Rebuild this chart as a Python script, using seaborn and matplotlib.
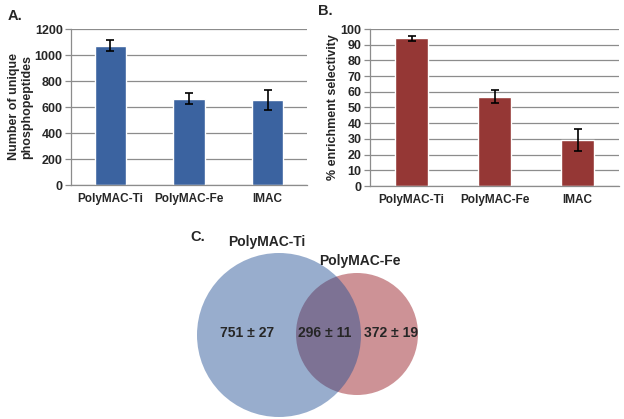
import numpy as np
import pandas as pd
import matplotlib
matplotlib.use("Agg")
import matplotlib.pyplot as plt
from matplotlib.patches import Circle
import seaborn as sns

# ── Data ─────────────────────────────────────────────────────────────────────
methods = ["PolyMAC-Ti", "PolyMAC-Fe", "IMAC"]
n_peptides = [1070, 665, 655]
n_peptides_err = [42, 40, 75]
selectivity = [94, 57, 29]
selectivity_err = [1.5, 4, 7]
venn_labels = ["PolyMAC-Ti", "PolyMAC-Fe"]
venn_counts = ["751 ± 27", "296 ± 11", "372 ± 19"]

sns.set_theme(style="white")
plt.rcParams["font.family"] = ["Liberation Sans", "DejaVu Sans"]
plt.rcParams["font.weight"] = "bold"

W, H = 624, 419
fig = plt.figure(figsize=(W / 100, H / 100), dpi=100)


def px_axes(x0, y0, x1, y1):
    return fig.add_axes([x0 / W, 1 - y1 / H, (x1 - x0) / W, (y1 - y0) / H])


def bar_panel(ax, vals, errs, color, ymax, step, ylabel):
    df = pd.DataFrame({"method": methods, "value": vals})
    sns.barplot(data=df, x="method", y="value", color=color, saturation=1,
                width=0.4, errorbar=None, ax=ax, zorder=2)
    ax.errorbar(range(len(vals)), vals, yerr=errs, fmt="none", ecolor="black",
                elinewidth=1.2, capsize=3, capthick=1.2, zorder=3)
    ax.set_xlim(-0.5, len(vals) - 0.5)
    ax.set_ylim(0, ymax)
    ax.set_yticks(np.arange(0, ymax + step / 2, step))
    ax.yaxis.grid(True, color="#8c8c8c", linewidth=0.9, zorder=0)
    ax.set_axisbelow(True)
    for s in ["top", "right"]:
        ax.spines[s].set_visible(False)
    for s in ["left", "bottom"]:
        ax.spines[s].set_color("#8c8c8c")
        ax.spines[s].set_linewidth(0.9)
    ax.set_xticks(np.arange(-0.5, len(vals)), minor=True)
    ax.tick_params(axis="x", which="major", length=0, labelsize=8.5, pad=6)
    ax.tick_params(axis="x", which="minor", length=4, color="#8c8c8c", width=0.9)
    ax.tick_params(axis="y", length=4, color="#8c8c8c", width=0.9, labelsize=9, pad=2,
                   left=True)
    for lbl in ax.get_xticklabels() + ax.get_yticklabels():
        lbl.set_fontweight("bold")
    ax.set_xlabel("")
    ax.set_ylabel(ylabel, fontsize=9, fontweight="bold", linespacing=1.15)


# ── Panel A ──────────────────────────────────────────────────────────────────
axA = px_axes(71, 29, 307, 185)
bar_panel(axA, n_peptides, n_peptides_err, "#3b63a0", 1200, 200,
          "Number of unique\nphosphopeptides")
axA.yaxis.set_label_coords(-0.16, 0.5)
fig.text(8 / W, 1 - 16 / H, "A.", fontsize=10.5, fontweight="bold", va="center")

# ── Panel B ──────────────────────────────────────────────────────────────────
axB = px_axes(370, 29, 619, 186)
bar_panel(axB, selectivity, selectivity_err, "#953735", 100, 10,
          "% enrichment selectivity")
axB.yaxis.set_label_coords(-0.125, 0.5)
fig.text(318 / W, 1 - 11 / H, "B.", fontsize=10.5, fontweight="bold", va="center")

# ── Panel C: Venn ────────────────────────────────────────────────────────────
axC = fig.add_axes([0, 0, 1, 1], zorder=-1)
axC.set_xlim(0, W)
axC.set_ylim(H, 0)
axC.axis("off")
axC.add_patch(Circle((357, 334), 61, facecolor="#cd9296", edgecolor="none"))
axC.add_patch(Circle((279, 335), 82, facecolor="#1f4d92", edgecolor="none", alpha=0.46))
axC.text(190, 237, "C.", fontsize=10.5, fontweight="bold", va="center", ha="left")
axC.text(267, 242, venn_labels[0], fontsize=10, fontweight="bold", ha="center", va="center")
axC.text(360, 261, venn_labels[1], fontsize=10, fontweight="bold", ha="center", va="center")
for x, t in zip([247, 325, 391], venn_counts):
    axC.text(x, 333, t, fontsize=10, fontweight="bold", ha="center", va="center")

fig.savefig("out.png", dpi=100)
